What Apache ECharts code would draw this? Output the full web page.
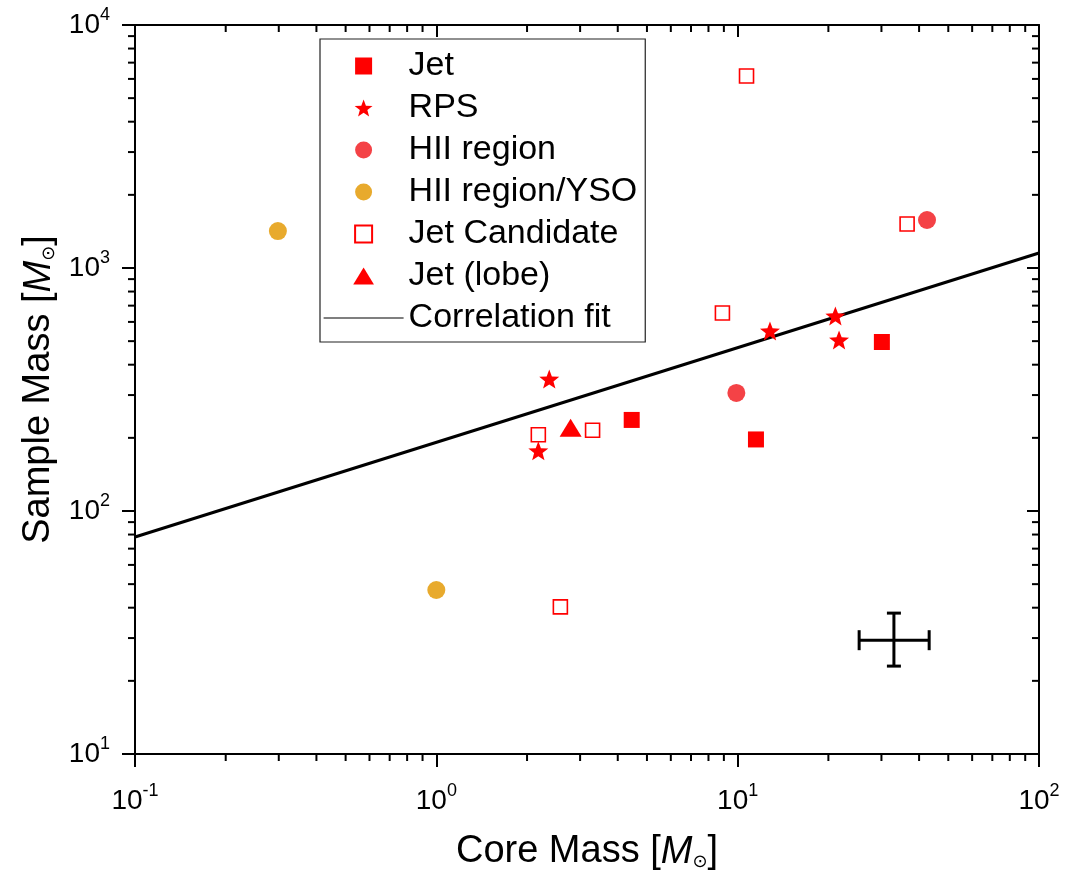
<!DOCTYPE html>
<html>
<head>
<meta charset="utf-8">
<script src="https://cdn.jsdelivr.net/npm/echarts@6/dist/echarts.min.js"></script>
<style>html,body{margin:0;padding:0;background:#fff}#c{width:1070px;height:872px}</style>
</head>
<body>
<div id="c"></div>
<script>
// ---- data ----
const jet = [[4.45, 237], [11.5, 197], [30.1, 496]];
const rps = [[2.37, 349], [2.18, 177], [12.8, 551], [21.1, 635], [21.7, 506]];
const hii = [[9.9, 306], [42.5, 1576]];
const hiiYso = [[0.298, 1419], [1.0, 47.3]];
const jetCandidate = [[10.7, 6170], [36.5, 1517], [8.9, 653], [2.18, 206], [3.3, 215], [2.58, 40.3]];
const jetLobe = [[2.79, 220]];
const corrFit = [[0.1, 78.2], [100, 1153]];
// error bar: [x, y, xLow, xHigh, yLow, yHigh]
const errorBar = [[33.0, 29.4, 25.3, 43.2, 23.0, 38.0]];
const xMinorTicks = [0.2,0.3,0.4,0.5,0.6,0.7,0.8,0.9,2,3,4,5,6,7,8,9,20,30,40,50,60,70,80,90];
const yMinorTicks = [20,30,40,50,60,70,80,90,200,300,400,500,600,700,800,900,2000,3000,4000,5000,6000,7000,8000,9000];
const legendNames = ['Jet', 'RPS', 'HII region', 'HII region/YSO', 'Jet Candidate', 'Jet (lobe)', 'Correlation fit'];

const FONT = 'Liberation Sans, Arial, Helvetica, sans-serif';
const RED = '#FF0000';

function starPath() {
  const pts = [];
  for (let i = 0; i < 10; i++) {
    const a = (-90 + i * 36) * Math.PI / 180;
    const r = i % 2 === 0 ? 50 : 21;
    pts.push((50 + r * Math.cos(a)).toFixed(2) + ',' + (50 + r * Math.sin(a)).toFixed(2));
  }
  return 'path://M' + pts.join('L') + 'Z';
}
const STAR = starPath();
const SQUARE = 'path://M0,0L10,0L10,10L0,10Z';
const TRIANGLE = 'path://M50,0L100,82L0,82Z';

function powLabel(v) {
  const e = Math.round(Math.log10(v));
  return '{b|10}{e|' + e + '}';
}
const tickRich = {
  b: { fontSize: 28, fontFamily: FONT, color: '#000', lineHeight: 38 },
  e: { fontSize: 18, fontFamily: FONT, color: '#000', lineHeight: 18, verticalAlign: 'top' }
};
const nameRich = {
  n: { fontSize: 38, fontFamily: FONT, color: '#000' },
  i: { fontSize: 38, fontFamily: FONT, color: '#000', fontStyle: 'italic' },
  s: { fontSize: 18, fontFamily: 'DejaVu Sans, ' + FONT, color: '#000', verticalAlign: 'bottom', lineHeight: 30 }
};

const axisCommon = {
  type: 'log', logBase: 10,
  axisLine: { show: true, lineStyle: { color: '#000', width: 2 } },
  splitLine: { show: false },
  minorTick: { show: false },
  minorSplitLine: { show: false }
};

const chart = echarts.init(document.getElementById('c'), null, { renderer: 'canvas' });
chart.setOption({
  animation: false,
  backgroundColor: '#fff',
  grid: { left: 135, right: 31, top: 25, bottom: 118, containLabel: false, outerBoundsMode: 'none' },
  xAxis: [
    Object.assign({}, axisCommon, {
      min: 0.1, max: 100, position: 'bottom',
      axisTick: { show: true, inside: false, length: 13, lineStyle: { color: '#000', width: 2 } },
      axisLabel: { formatter: powLabel, rich: tickRich, margin: 28 },
      name: '{n|Core Mass [}{i|M}{s|⊙}{n|]}',
      nameLocation: 'middle', nameGap: 79,
      nameTextStyle: { rich: nameRich }
    }),
    Object.assign({}, axisCommon, {
      min: 0.1, max: 100, position: 'top',
      axisTick: { show: true, inside: true, length: 12, lineStyle: { color: '#000', width: 2 } },
      axisLabel: { show: false }
    })
  ],
  yAxis: [
    Object.assign({}, axisCommon, {
      min: 10, max: 10000, position: 'left',
      axisTick: { show: true, inside: false, length: 13, lineStyle: { color: '#000', width: 2 } },
      axisLabel: { formatter: powLabel, rich: tickRich, margin: 25 },
      name: '{n|Sample Mass [}{i|M}{s|⊙}{n|]}',
      nameLocation: 'middle', nameGap: 70, nameRotate: 90,
      nameTextStyle: { rich: nameRich }
    }),
    Object.assign({}, axisCommon, {
      min: 10, max: 10000, position: 'right',
      axisTick: { show: true, inside: true, length: 12, lineStyle: { color: '#000', width: 2 } },
      axisLabel: { show: false }
    })
  ],
  legend: {
    orient: 'vertical', left: 320, top: 39,
    itemWidth: 80, itemHeight: 17, itemGap: 8,
    symbolKeepAspect: true,
    padding: [10, 8, 7, 3],
    borderColor: '#222', borderWidth: 1.2,
    backgroundColor: '#fff',
    textStyle: { fontSize: 34, fontFamily: FONT, color: '#000', lineHeight: 31 },
    data: legendNames.map(n => n === 'Correlation fit'
      ? { name: n, itemStyle: { color: 'rgba(0,0,0,0)', opacity: 0, borderWidth: 0 }, lineStyle: { width: 1.2, color: '#000', opacity: 1 } }
      : { name: n })
  },
  series: [
    {
      name: 'Minor ticks', type: 'custom', silent: true, clip: false, z: 5,
      data: xMinorTicks.map(v => [v, 10, 0]).concat(yMinorTicks.map(v => [0.1, v, 1])),
      renderItem: function (params, api) {
        const k = api.value(2);
        const cs = params.coordSys;
        const st = { stroke: '#000', lineWidth: 2 };
        if (k === 0) {
          const px = api.coord([api.value(0), 10])[0];
          const b = cs.y + cs.height, t = cs.y;
          return { type: 'group', children: [
            { type: 'line', shape: { x1: px, y1: b, x2: px, y2: b + 7 }, style: st },
            { type: 'line', shape: { x1: px, y1: t, x2: px, y2: t + 7 }, style: st }
          ]};
        } else {
          const py = api.coord([0.1, api.value(1)])[1];
          const l = cs.x, r = cs.x + cs.width;
          return { type: 'group', children: [
            { type: 'line', shape: { x1: l, y1: py, x2: l - 7, y2: py }, style: st },
            { type: 'line', shape: { x1: r, y1: py, x2: r - 7, y2: py }, style: st }
          ]};
        }
      }
    },
    {
      name: 'Correlation fit', type: 'line', data: corrFit, symbol: 'none',
      lineStyle: { color: '#000', width: 3 }, itemStyle: { color: '#000' }, z: 3
    },
    {
      name: 'Jet', type: 'scatter', data: jet, symbol: SQUARE, symbolSize: 16,
      symbolKeepAspect: true, itemStyle: { color: RED, opacity: 1 }, z: 4
    },
    {
      name: 'RPS', type: 'scatter', data: rps, symbol: STAR, symbolSize: 20,
      symbolKeepAspect: true, itemStyle: { color: RED, opacity: 1 }, z: 4
    },
    {
      name: 'HII region', type: 'scatter', data: hii, symbol: 'circle', symbolSize: 18,
      itemStyle: { color: '#F44246', opacity: 1 }, z: 4
    },
    {
      name: 'HII region/YSO', type: 'scatter', data: hiiYso, symbol: 'circle', symbolSize: 18,
      itemStyle: { color: '#E8AA2D', opacity: 1 }, z: 4
    },
    {
      name: 'Jet Candidate', type: 'scatter', data: jetCandidate, symbol: SQUARE, symbolSize: 14,
      symbolKeepAspect: true,
      itemStyle: { color: 'rgba(255,255,255,0)', borderColor: RED, borderWidth: 1.6, opacity: 1 }, z: 4
    },
    {
      name: 'Jet (lobe)', type: 'scatter', data: jetLobe, symbol: TRIANGLE, symbolSize: 22,
      symbolKeepAspect: true, itemStyle: { color: RED, opacity: 1 }, z: 4
    },
    {
      name: 'Error bar', type: 'custom', silent: true, clip: false, z: 6,
      data: errorBar,
      renderItem: function (params, api) {
        const c = api.coord([api.value(0), api.value(1)]);
        const l = api.coord([api.value(2), api.value(1)]);
        const r = api.coord([api.value(3), api.value(1)]);
        const b = api.coord([api.value(0), api.value(4)]);
        const t = api.coord([api.value(0), api.value(5)]);
        const st = { stroke: '#000', lineWidth: 3 };
        return { type: 'group', children: [
          { type: 'line', shape: { x1: l[0], y1: c[1], x2: r[0], y2: c[1] }, style: st },
          { type: 'line', shape: { x1: c[0], y1: b[1], x2: c[0], y2: t[1] }, style: st },
          { type: 'line', shape: { x1: l[0], y1: c[1] - 10, x2: l[0], y2: c[1] + 10 }, style: st },
          { type: 'line', shape: { x1: r[0], y1: c[1] - 10, x2: r[0], y2: c[1] + 10 }, style: st },
          { type: 'line', shape: { x1: c[0] - 7, y1: b[1], x2: c[0] + 7, y2: b[1] }, style: st },
          { type: 'line', shape: { x1: c[0] - 7, y1: t[1], x2: c[0] + 7, y2: t[1] }, style: st }
        ]};
      }
    }
  ]
});
</script>
</body>
</html>
